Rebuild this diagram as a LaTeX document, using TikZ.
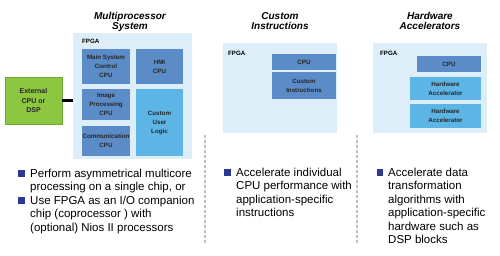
\documentclass[tikz,border=0pt]{standalone}
\usepackage{fontspec}
\setmainfont{Liberation Sans}
\usetikzlibrary{positioning}

\definecolor{fpgabg}{HTML}{DDEEF8}
\definecolor{cpublue}{HTML}{5B8CC7}
\definecolor{logicblue}{HTML}{5DB5E6}
\definecolor{extgreen}{HTML}{8DC63F}
\definecolor{extedge}{HTML}{6FA535}
\definecolor{bulletblue}{HTML}{2B3990}

\tikzset{
  fpga/.style={fill=fpgabg,inner sep=0pt},
  blk/.style={inner sep=0pt,align=center,text=black!85,
    font=\bfseries\fontsize{6.2}{9}\selectfont},
  cpu/.style={blk,fill=cpublue},
  logic/.style={blk,fill=logicblue},
  tag/.style={inner sep=0pt,anchor=west,font=\bfseries\fontsize{6.2}{8}\selectfont},
  title/.style={inner sep=0pt,align=center,anchor=north,
    font=\bfseries\itshape\fontsize{10}{10.5}\selectfont},
  % anchored at the baseline of the last line
  point/.style={inner sep=0pt,align=left,anchor=base west,
    font=\fontsize{11.5}{13.5}\selectfont},
  sq/.style={fill=bulletblue,inner sep=0pt,minimum size=6.5pt},
  sep/.style={gray!50,line width=1.1pt,dash pattern=on 3pt off 2pt}
}

\begin{document}
\begin{tikzpicture}[x=1pt,y=-1pt]
  \useasboundingbox (0,0) rectangle (500,255);

  % multiprocessor system
  \node[title] (t1) at (130,12) {Multiprocessor\\System};
  \node[fpga,minimum width=119pt,minimum height=126pt] (fpga1) at (132.5,96) {};
  \node[tag] (f1) at (82,41) {FPGA};
  \node[cpu,minimum width=48pt,minimum height=35pt] (main) at (106,66.5) {Main System\\Control\\CPU};
  \node[cpu,minimum width=47pt,minimum height=35pt] (hmi) at (159.5,66.5) {HMI\\CPU};
  \node[cpu,minimum width=48pt,minimum height=31pt] (img) at (106,104.5) {Image\\Processing\\CPU};
  \node[cpu,minimum width=48pt,minimum height=30pt] (comm) at (106,141) {Communication\\CPU};
  \node[logic,minimum width=47pt,minimum height=67pt] (cul) at (159.5,122.5) {Custom\\User\\Logic};
  \node[blk,fill=extgreen,draw=extedge,line width=0.6pt,minimum width=57pt,
    minimum height=47pt,font=\bfseries\fontsize{7}{9.3}\selectfont] (ext) at (33.5,100.5) {External\\CPU or\\DSP};
  \draw[line width=3.5pt] (ext.east) -- (ext.east -| fpga1.west);

  \node[sq] (b1) at (21.5,173.5) {};
  \node[point] (p1) at (30,190.5) {Perform asymmetrical multicore\\processing on a single chip, or};
  \node[sq] (b2) at (21.5,200.5) {};
  \node[point] (p2) at (30,231) {Use FPGA as an I/O companion\\chip (coprocessor ) with\\(optional) Nios II processors};

  \draw[sep] (205,135) -- (205,244);

  % custom instructions
  \node[title] (t2) at (280,12) {Custom\\Instructions};
  \node[fpga,minimum width=114pt,minimum height=90pt] (fpga2) at (280,88) {};
  \node[tag] (f2) at (228,53) {FPGA};
  \node[cpu,minimum width=64pt,minimum height=16pt] (cpu2) at (304,62) {CPU};
  \node[cpu,minimum width=64pt,minimum height=27pt] (ci) at (304,85.5) {Custom\\Instructions};

  \node[sq] (b3) at (227.5,172.5) {};
  \node[point] (p3) at (236,216.5) {Accelerate individual\\CPU performance with\\application-specific\\instructions};

  \draw[sep] (357,135) -- (357,244);

  % hardware accelerators
  \node[title] (t3) at (430,12) {Hardware\\Accelerators};
  \node[fpga,minimum width=114pt,minimum height=90pt] (fpga3) at (430,88) {};
  \node[tag] (f3) at (380,53) {FPGA};
  \node[cpu,minimum width=64pt,minimum height=16pt] (cpu3) at (449,64) {CPU};
  \node[logic,minimum width=71pt,minimum height=23pt] (ha1) at (445.5,88.5) {Hardware\\Accelerator};
  \node[logic,minimum width=71pt,minimum height=24pt] (ha2) at (445.5,116) {Hardware\\Accelerator};

  \node[sq] (b4) at (380,172.5) {};
  \node[point] (p4) at (388,243.5) {Accelerate data\\transformation\\algorithms with\\application-specific\\hardware such as\\DSP blocks};
\end{tikzpicture}
\end{document}
